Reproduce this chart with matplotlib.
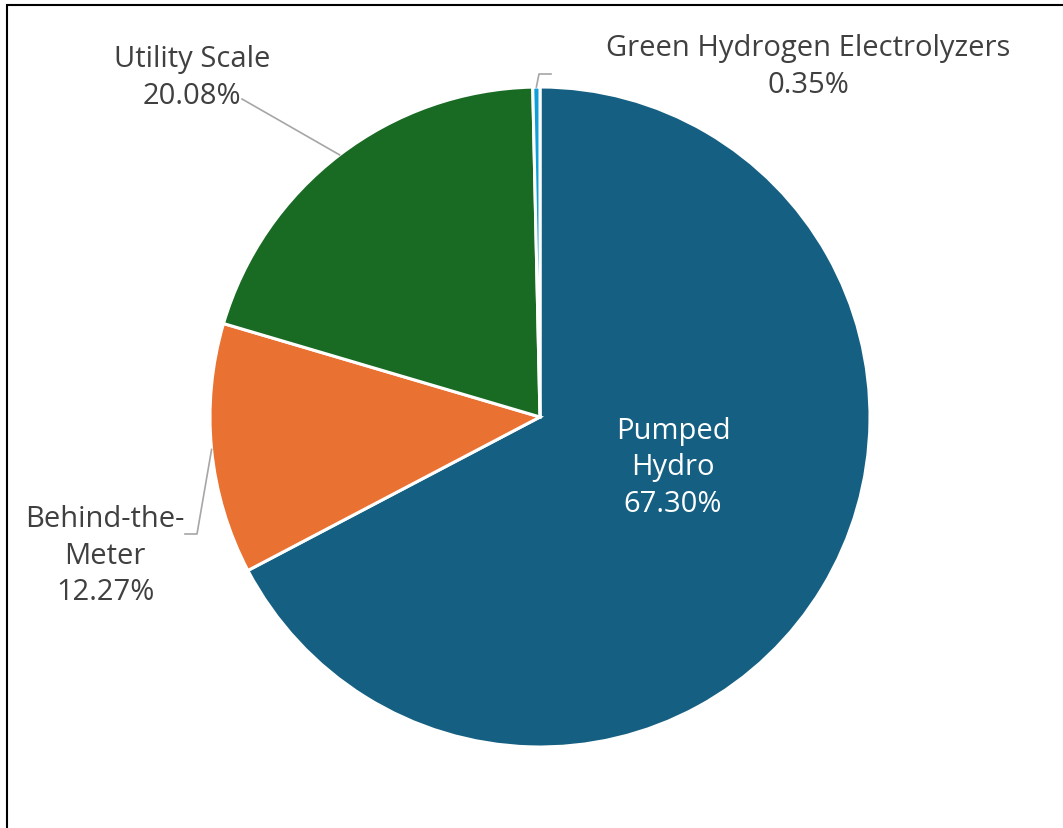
import numpy as np
import matplotlib
matplotlib.use('Agg')
import matplotlib.pyplot as plt
from matplotlib.patches import Rectangle

# storage capacity share by technology
categories = ['Pumped Hydro', 'Behind-the-Meter', 'Utility Scale', 'Green Hydrogen Electrolyzers']
shares = [67.30, 12.27, 20.08, 0.35]
colors = ['#156082', '#E97132', '#196B24', '#0F9ED5']

W, H = 1063, 829
plt.rcParams['font.family'] = ['Open Sans', 'DejaVu Sans']

fig = plt.figure(figsize=(W / 100, H / 100), dpi=100)
ax = fig.add_axes([0, 0, 1, 1])

cx, cy, r = 540, H - 418, 330
wedges, _ = ax.pie(shares, colors=colors, startangle=90, counterclock=False,
                   center=(cx, cy), radius=r, frame=True,
                   wedgeprops=dict(edgecolor='white', linewidth=2.2))
ax.set_xlim(0, W)
ax.set_ylim(0, H)
ax.set_aspect('equal')
ax.axis('off')

text_col = '#404040'
line_col = '#A6A6A6'
fs = 21


def edge_point(w):
    ang = np.deg2rad((w.theta1 + w.theta2) / 2)
    return cx + r * np.cos(ang), cy + r * np.sin(ang)


def label(i, x, y, name, color=text_col):
    txt = f'{name}\n{shares[i]:.2f}%'
    ax.text(x, H - y, txt, ha='center', va='center', fontsize=fs, color=color,
            linespacing=1.33, multialignment='center')


# Pumped Hydro, inside the slice
label(0, 673, 468, 'Pumped\nHydro', color='white')

# Behind-the-Meter
label(1, 105, 556, 'Behind-the-\nMeter')
px, py = edge_point(wedges[1])
ax.plot([px, 197, 185], [py, H - 535, H - 535], color=line_col, lw=1.2)

# Utility Scale
label(2, 192, 78, 'Utility Scale')
px, py = edge_point(wedges[2])
ax.plot([px, 242], [py, H - 100], color=line_col, lw=1.2)

# Green Hydrogen Electrolyzers
label(3, 808, 67, 'Green Hydrogen Electrolyzers')
px, py = edge_point(wedges[3])
ax.plot([px, 539, 551], [py, H - 75, H - 75], color=line_col, lw=1.2)

# chart border (runs past the right and bottom edges)
fig.patches.append(Rectangle((7 / W, -0.05), 1.2, 1 - 6 / H + 0.05,
                             transform=fig.transFigure, fill=False,
                             edgecolor='black', linewidth=1.5))

fig.savefig('out.png', dpi=100)
